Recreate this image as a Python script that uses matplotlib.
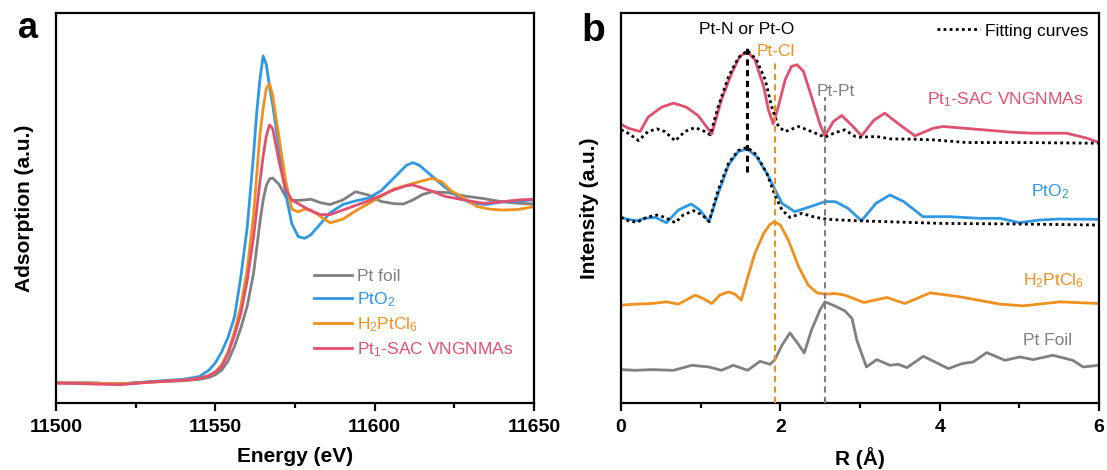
#!/usr/bin/env python3
"""Pt L3-edge XANES (a) and FT-EXAFS (b) comparison figure."""

from __future__ import annotations

import matplotlib

matplotlib.use("Agg")
import matplotlib.pyplot as plt  # noqa: E402
from matplotlib.ticker import MultipleLocator  # noqa: E402

# ---- panel a: normalised XANES ----
E_FOIL = [11500, 11510, 11520, 11530, 11540, 11545, 11548, 11550, 11552, 11554, 11556,
          11558, 11560, 11562, 11564, 11565, 11566, 11567, 11568, 11570, 11572, 11574,
          11576, 11578, 11580, 11583, 11586, 11590, 11594, 11598, 11602, 11606, 11609,
          11612, 11615, 11618, 11623, 11628, 11634, 11640, 11645, 11650]
MU_FOIL = [0.0, 0.0, -0.005, 0.005, 0.012, 0.02, 0.03, 0.045, 0.07, 0.12, 0.2,
           0.3, 0.42, 0.6, 0.88, 1.0, 1.08, 1.115, 1.12, 1.085, 1.02, 0.998,
           0.998, 1.0, 1.004, 0.985, 0.975, 1.0, 1.045, 1.027, 0.992, 0.98, 0.978,
           1.0, 1.03, 1.045, 1.04, 1.022, 1.008, 0.99, 0.982, 0.978]

E_PTO2 = [11500, 11510, 11520, 11530, 11540, 11545, 11548, 11550, 11552, 11554, 11556,
          11558, 11560, 11562, 11563, 11564, 11565, 11566, 11567, 11568, 11570, 11572,
          11574, 11576, 11578, 11580, 11583, 11586, 11590, 11594, 11598, 11602, 11606,
          11610, 11612, 11614, 11618, 11622, 11626, 11630, 11635, 11640, 11645, 11650]
MU_PTO2 = [0.0, 0.0, -0.005, 0.008, 0.02, 0.035, 0.07, 0.11, 0.17, 0.25, 0.36,
           0.58, 0.85, 1.25, 1.48, 1.66, 1.787, 1.74, 1.62, 1.52, 1.28, 1.04,
           0.87, 0.80, 0.79, 0.81, 0.87, 0.93, 0.975, 0.995, 1.01, 1.05, 1.12,
           1.19, 1.204, 1.19, 1.13, 1.07, 1.02, 0.985, 0.975, 0.99, 0.995, 1.0]

E_H2PTCL6 = [11500, 11510, 11520, 11530, 11540, 11545, 11548, 11550, 11552, 11554, 11556,
             11558, 11560, 11562, 11564, 11565, 11566, 11567, 11568, 11570, 11572, 11574,
             11576, 11578, 11580, 11583, 11586, 11590, 11594, 11598, 11602, 11606, 11610,
             11614, 11618, 11621, 11624, 11628, 11632, 11636, 11640, 11645, 11650]
MU_H2PTCL6 = [0.0, 0.0, -0.005, 0.005, 0.015, 0.025, 0.04, 0.06, 0.1, 0.17, 0.28,
              0.42, 0.62, 0.92, 1.36, 1.50, 1.61, 1.635, 1.57, 1.34, 1.11, 0.95,
              0.935, 0.95, 0.945, 0.91, 0.875, 0.895, 0.94, 0.98, 1.02, 1.06, 1.08,
              1.1, 1.118, 1.1, 1.05, 1.01, 0.965, 0.95, 0.945, 0.948, 0.964]

E_SAC = [11500, 11510, 11520, 11530, 11540, 11545, 11548, 11550, 11552, 11554, 11556,
         11558, 11560, 11562, 11564, 11565, 11566, 11567, 11568, 11570, 11572, 11574,
         11576, 11578, 11580, 11583, 11586, 11590, 11594, 11598, 11602, 11606, 11610,
         11612, 11615, 11618, 11622, 11628, 11634, 11640, 11645, 11650]
MU_SAC = [0.0, -0.005, -0.01, 0.005, 0.015, 0.025, 0.04, 0.06, 0.09, 0.16, 0.26,
          0.38, 0.56, 0.80, 1.1, 1.24, 1.35, 1.41, 1.39, 1.21, 1.06, 1.0,
          0.98, 0.96, 0.94, 0.92, 0.92, 0.945, 0.97, 0.995, 1.025, 1.055, 1.078,
          1.082, 1.065, 1.048, 1.02, 1.0, 0.982, 0.99, 1.0, 1.004]

# ---- panel b: FT-EXAFS, stacked with offsets ----
R_SAC = [0.0, 0.09, 0.24, 0.34, 0.51, 0.66, 0.82, 0.97, 1.14, 1.26, 1.39, 1.49, 1.586,
         1.68, 1.79, 1.85, 1.91, 1.975, 2.06, 2.14, 2.21, 2.29, 2.39, 2.50, 2.56, 2.665,
         2.77, 2.90, 3.02, 3.17, 3.31, 3.50, 3.69, 3.92, 4.05, 4.3, 4.55, 4.9, 5.17, 5.59,
         5.85, 6.0]
FT_SAC = [8.34, 8.22, 8.12, 8.55, 8.85, 8.97, 8.85, 8.59, 8.05, 9.07, 9.87, 10.37, 10.50,
          10.27, 9.47, 8.77, 8.35, 8.87, 9.67, 10.07, 10.12, 9.92, 9.17, 8.32, 7.99, 8.42,
          8.60, 8.30, 7.99, 8.45, 8.67, 8.32, 7.99, 8.22, 8.27, 8.22, 8.17, 8.10, 8.07, 8.07,
          7.92, 7.79]
R_SAC_FIT = [0.0, 0.09, 0.22, 0.34, 0.45, 0.55, 0.68, 0.80, 0.93, 1.05, 1.12, 1.22, 1.35,
             1.47, 1.586, 1.70, 1.81, 1.89, 1.975, 2.06, 2.23, 2.39, 2.56, 2.69, 2.81, 2.94,
             3.0, 3.21, 3.38, 3.67, 3.92, 4.34, 5.0, 6.0]
FT_SAC_FIT = [8.17, 8.07, 7.85, 8.12, 8.20, 8.12, 7.84, 8.12, 8.24, 8.12, 8.02, 8.87, 9.77,
              10.32, 10.55, 10.27, 9.67, 8.87, 8.27, 8.12, 8.27, 8.12, 7.95, 8.09, 8.17, 7.97,
              7.95, 7.97, 7.90, 7.89, 7.87, 7.79, 7.79, 7.77]

R_PTO2 = [0.0, 0.09, 0.20, 0.30, 0.43, 0.57, 0.72, 0.88, 0.99, 1.105, 1.22, 1.35, 1.47,
          1.586, 1.70, 1.83, 1.925, 2.02, 2.18, 2.35, 2.56, 2.69, 2.85, 2.94, 3.02, 3.2,
          3.376, 3.55, 3.79, 4.13, 4.5, 4.76, 5.0, 5.25, 5.5, 6.0]
FT_PTO2 = [5.55, 5.49, 5.45, 5.52, 5.55, 5.39, 5.77, 5.95, 5.77, 5.42, 6.27, 7.12, 7.52,
           7.60, 7.37, 6.87, 6.42, 5.97, 5.72, 5.85, 6.02, 6.02, 5.82, 5.62, 5.45, 5.97,
           6.22, 6.02, 5.57, 5.57, 5.52, 5.52, 5.39, 5.47, 5.50, 5.49]
R_PTO2_FIT = [0.0, 0.09, 0.20, 0.32, 0.45, 0.55, 0.68, 0.78, 0.91, 1.02, 1.105, 1.22, 1.35,
              1.47, 1.586, 1.70, 1.83, 1.93, 2.02, 2.12, 2.27, 2.44, 2.60, 2.94, 4.0, 5.0, 6.0]
FT_PTO2_FIT = [5.55, 5.45, 5.40, 5.55, 5.62, 5.55, 5.39, 5.62, 5.75, 5.62, 5.42, 6.37, 7.17,
               7.55, 7.65, 7.42, 6.87, 6.22, 5.77, 5.55, 5.67, 5.55, 5.49, 5.45, 5.37, 5.35, 5.32]

R_H2PTCL6 = [0.0, 0.18, 0.385, 0.57, 0.72, 0.93, 1.03, 1.14, 1.24, 1.35, 1.43, 1.51, 1.58,
             1.68, 1.79, 1.87, 1.925, 2.0, 2.1, 2.23, 2.35, 2.46, 2.56, 2.69, 2.81, 2.94,
             3.05, 3.335, 3.565, 3.88, 4.255, 4.76, 5.05, 5.51, 6.0]
FT_H2PTCL6 = [2.92, 2.95, 2.97, 3.02, 2.95, 3.22, 3.12, 2.97, 3.22, 3.32, 3.25, 3.07, 3.67,
              4.47, 5.07, 5.34, 5.42, 5.32, 4.87, 4.07, 3.52, 3.29, 3.25, 3.27, 3.22, 3.10,
              3.00, 3.15, 2.97, 3.29, 3.17, 2.95, 2.90, 3.02, 2.97]

R_FOIL = [0.0, 0.18, 0.385, 0.66, 0.89, 1.10, 1.26, 1.41, 1.59, 1.745, 1.87, 1.925, 2.02,
          2.12, 2.22, 2.30, 2.39, 2.50, 2.56, 2.69, 2.81, 2.90, 2.96, 3.08, 3.21, 3.376,
          3.48, 3.59, 3.795, 4.11, 4.28, 4.42, 4.59, 4.82, 5.01, 5.17, 5.42, 5.67, 5.8, 6.0]
FT_FOIL = [0.99, 0.97, 0.99, 0.97, 1.12, 1.07, 0.97, 1.12, 0.97, 1.24, 1.15, 1.27, 1.72,
           2.09, 1.77, 1.49, 2.17, 2.79, 3.02, 2.89, 2.75, 2.52, 1.87, 1.07, 1.29, 1.12,
           1.15, 1.05, 1.39, 1.02, 1.17, 1.22, 1.50, 1.27, 1.37, 1.29, 1.42, 1.27, 1.07, 1.12]

# coordination-shell markers
BOND_R = [1.586, 1.935, 2.56]
BOND_TOP = [10.70, 10.27, 9.15]
BOND_BOTTOM = [6.92, 0.0, 0.0]
BOND_LABELS = ["Pt-N or Pt-O", "Pt-Cl", "Pt-Pt"]

GRAY = "#808080"
BLUE = "#2f98e3"
ORANGE = "#f0901e"
PINK = "#e2506f"

FONT = "Liberation Sans"


def setup_style() -> None:
    plt.rcParams["font.family"] = [FONT, "DejaVu Sans"]
    plt.rcParams["mathtext.fontset"] = "custom"
    plt.rcParams["mathtext.rm"] = FONT
    plt.rcParams["mathtext.it"] = FONT + ":italic"
    plt.rcParams["mathtext.bf"] = FONT + ":bold"
    plt.rcParams["axes.linewidth"] = 1.6


def style_axes(ax, xlabel: str, ylabel: str) -> None:
    ax.set_yticks([])
    ax.tick_params(axis="x", which="major", direction="out", length=6, width=1.6,
                   labelsize=14, pad=6)
    ax.tick_params(axis="x", which="minor", direction="out", length=3.5, width=1.6)
    for lab in ax.get_xticklabels():
        lab.set_fontweight("bold")
    ax.set_xlabel(xlabel, fontsize=15, fontweight="bold", labelpad=8)
    ax.set_ylabel(ylabel, fontsize=15, fontweight="bold", labelpad=16)


def panel_a(ax) -> None:
    lw = 2.0
    series = [
        (E_FOIL, MU_FOIL, GRAY, "Pt foil"),
        (E_PTO2, MU_PTO2, BLUE, "PtO$_2$"),
        (E_H2PTCL6, MU_H2PTCL6, ORANGE, "H$_2$PtCl$_6$"),
        (E_SAC, MU_SAC, PINK, "Pt$_1$-SAC VNGNMAs"),
    ]
    for e, mu, col, lab in series:
        ax.plot(e, mu, color=col, lw=lw, label=lab)
    ax.set_xlim(11500, 11650)
    ax.set_ylim(-0.108, 2.022)
    ax.xaxis.set_major_locator(MultipleLocator(50))
    ax.xaxis.set_minor_locator(MultipleLocator(25))
    leg = ax.legend(loc="upper left", bbox_to_anchor=(0.525, 0.36), frameon=False,
                    fontsize=12.5, handlelength=2.2, handletextpad=0.3, labelspacing=0.35,
                    borderaxespad=0)
    for txt, line in zip(leg.get_texts(), leg.get_lines()):
        txt.set_color(line.get_color())
    style_axes(ax, "Energy (eV)", "Adsorption (a.u.)")


def panel_b(ax) -> None:
    lw = 2.0
    fit_kw = dict(color="black", lw=2.0, ls=(0, (1, 1.2)))
    ax.plot(R_SAC, FT_SAC, color=PINK, lw=lw)
    ax.plot(R_SAC_FIT, FT_SAC_FIT, label="Fitting curves", **fit_kw)
    ax.plot(R_PTO2, FT_PTO2, color=BLUE, lw=lw)
    ax.plot(R_PTO2_FIT, FT_PTO2_FIT, **fit_kw)
    ax.plot(R_H2PTCL6, FT_H2PTCL6, color=ORANGE, lw=lw)
    ax.plot(R_FOIL, FT_FOIL, color=GRAY, lw=lw)

    bond_cols = ["black", ORANGE, GRAY]
    bond_lw = [2.2, 1.5, 1.5]
    bond_ls = [(0, (2, 1.5)), (0, (3, 2)), (0, (3, 2))]
    label_x = [1.58, 1.94, 2.69]
    label_y = [11.05, 10.37, 9.19]
    for r, top, bot, lab, col, w, ls, lx, ly in zip(
        BOND_R, BOND_TOP, BOND_BOTTOM, BOND_LABELS, bond_cols, bond_lw, bond_ls, label_x, label_y
    ):
        ax.plot([r, r], [bot, top], color=col, lw=w, ls=ls, zorder=4)
        ax.text(lx, ly, lab, color=col, fontsize=12.5, ha="center", va="baseline")

    names = [("Pt$_1$-SAC VNGNMAs", PINK, 4.82, 8.95), ("PtO$_2$", BLUE, 5.385, 6.17),
             ("H$_2$PtCl$_6$", ORANGE, 5.43, 3.52), ("Pt Foil", GRAY, 5.36, 1.72)]
    for lab, col, x, y in names:
        ax.text(x, y, lab, color=col, fontsize=12.5, ha="center", va="baseline")

    ax.set_xlim(0, 6)
    ax.set_ylim(0, 11.67)
    ax.xaxis.set_major_locator(MultipleLocator(2))
    ax.xaxis.set_minor_locator(MultipleLocator(1))
    ax.legend(loc="upper right", frameon=False, fontsize=12.5, handlelength=2.5,
              handletextpad=0.3, borderaxespad=0.2)
    style_axes(ax, "R (Å)", "Intensity (a.u.)")


def main() -> int:
    setup_style()
    fig = plt.figure(figsize=(11.07, 4.70), dpi=100)
    ax_a = fig.add_axes([0.0506, 0.1432, 0.4318, 0.8292])
    ax_b = fig.add_axes([0.561, 0.1432, 0.4318, 0.8292])
    panel_a(ax_a)
    panel_b(ax_b)
    fig.text(0.025, 0.94, "a", fontsize=26, fontweight="bold", ha="center", va="center")
    fig.text(0.536, 0.935, "b", fontsize=28, fontweight="bold", ha="center", va="center")
    fig.savefig("out.png", dpi=100)
    plt.close(fig)
    return 0


if __name__ == "__main__":
    raise SystemExit(main())
